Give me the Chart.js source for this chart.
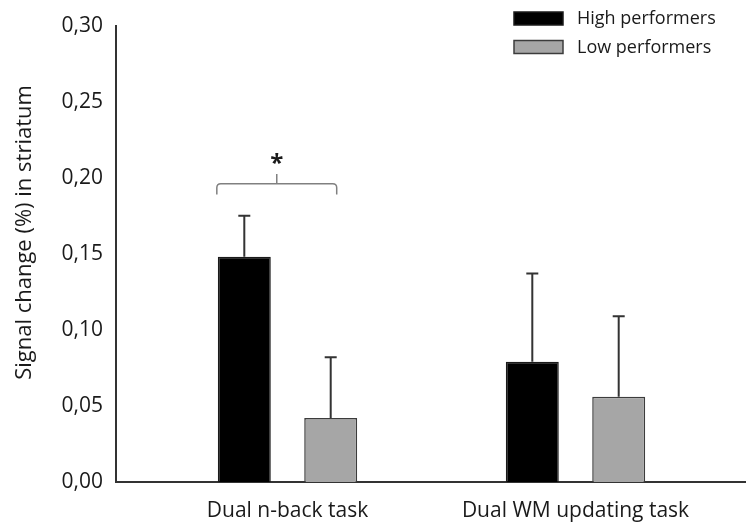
<!DOCTYPE html>
<html>
<head>
<meta charset="utf-8">
<script src="https://cdn.jsdelivr.net/npm/chart.js@4.4.1/dist/chart.umd.min.js"></script>
<style>
  html, body { margin: 0; padding: 0; background: #fff; }
  #wrap { width: 746px; height: 523px; }
</style>
</head>
<body>
<div id="wrap"><canvas id="barChart"></canvas></div>
<script>
// data
var tasks = ['Dual n-back task', 'Dual WM updating task'];
var groups = ['High performers', 'Low performers'];
var highMeans = [0.148, 0.079];
var highErrTop = [0.175, 0.137];
var lowMeans = [0.042, 0.056];
var lowErrTop = [0.082, 0.109];
var yTicks = [0, 0.05, 0.10, 0.15, 0.20, 0.25, 0.30];
var yTitle = 'Signal change (%) in striatum';
var sigMark = '*';

var FONT = '"Open Sans", "Noto Sans", sans-serif';
var TEXT = '#1a1a1a';

function toPoints(vals) {
  return vals.map(function (v, i) { return { x: i + 1, y: v }; });
}

// error bars on top of each bar
var errorBars = {
  id: 'errorBars',
  afterDatasetsDraw: function (chart) {
    var ctx = chart.ctx;
    var y = chart.scales.y;
    ctx.save();
    ctx.strokeStyle = '#333';
    ctx.lineWidth = 2;
    chart.data.datasets.forEach(function (ds, di) {
      var meta = chart.getDatasetMeta(di);
      meta.data.forEach(function (bar, i) {
        var top = y.getPixelForValue(ds.errTop[i]);
        ctx.beginPath();
        ctx.moveTo(bar.x, bar.y);
        ctx.lineTo(bar.x, top);
        ctx.moveTo(bar.x - 6, top);
        ctx.lineTo(bar.x + 6, top);
        ctx.stroke();
      });
    });
    ctx.restore();
  }
};

// significance bracket over the first task
var sigBracket = {
  id: 'sigBracket',
  afterDatasetsDraw: function (chart) {
    var ctx = chart.ctx;
    var y = chart.scales.y;
    var b0 = chart.getDatasetMeta(0).data[0];
    var b1 = chart.getDatasetMeta(1).data[0];
    var left = b0.x - b0.width / 2 - 1;
    var right = b1.x + 6;
    var mid = (left + right) / 2;
    var yLine = y.getPixelForValue(0.196);
    var yEnd = y.getPixelForValue(0.189);
    var yTip = y.getPixelForValue(0.2025);
    var r = 4;
    ctx.save();
    ctx.strokeStyle = '#808080';
    ctx.lineWidth = 1.5;
    ctx.beginPath();
    ctx.moveTo(left, yEnd);
    ctx.lineTo(left, yLine + r);
    ctx.quadraticCurveTo(left, yLine, left + r, yLine);
    ctx.lineTo(right - r, yLine);
    ctx.quadraticCurveTo(right, yLine, right, yLine + r);
    ctx.lineTo(right, yEnd);
    ctx.moveTo(mid, yLine);
    ctx.lineTo(mid, yTip);
    ctx.stroke();
    ctx.fillStyle = TEXT;
    ctx.font = 'bold 24px ' + FONT;
    ctx.textAlign = 'center';
    ctx.textBaseline = 'alphabetic';
    ctx.fillText(sigMark, mid, yTip - 3);
    ctx.restore();
  }
};

// y title and legend drawn by hand so they sit where the figure has them
var extras = {
  id: 'extras',
  afterDraw: function (chart) {
    var ctx = chart.ctx;
    var y = chart.scales.y;
    ctx.save();
    ctx.fillStyle = TEXT;
    ctx.font = '22px ' + FONT;
    ctx.textAlign = 'center';
    ctx.textBaseline = 'middle';
    ctx.translate(25, y.getPixelForValue(0.164));
    ctx.rotate(-Math.PI / 2);
    ctx.fillText(yTitle, 0, 0);
    ctx.restore();

    ctx.save();
    var bx = chart.width - 232;
    chart.data.datasets.forEach(function (ds, i) {
      var by = 12 + i * 28.5;
      ctx.fillStyle = ds.backgroundColor;
      ctx.fillRect(bx, by, 49, 13);
      ctx.strokeStyle = ds.borderColor;
      ctx.lineWidth = 1.5;
      ctx.strokeRect(bx, by, 49, 13);
      ctx.fillStyle = TEXT;
      ctx.font = '18px ' + FONT;
      ctx.textAlign = 'left';
      ctx.textBaseline = 'middle';
      ctx.fillText(ds.label, bx + 63, by + 7);
    });
    ctx.restore();
  }
};

document.addEventListener('DOMContentLoaded', function () {
  var ctx = document.getElementById('barChart').getContext('2d');
  var chart = new Chart(ctx, {
    type: 'bar',
    data: {
      datasets: [{
        label: groups[0],
        data: toPoints(highMeans),
        errTop: highErrTop,
        backgroundColor: '#000000',
        borderColor: '#1a1a1a',
        borderWidth: 1.5
      }, {
        label: groups[1],
        data: toPoints(lowMeans),
        errTop: lowErrTop,
        backgroundColor: '#a6a6a6',
        borderColor: '#3c3c3c',
        borderWidth: 1.5
      }]
    },
    options: {
      responsive: true,
      maintainAspectRatio: false,
      animation: false,
      layout: { padding: { top: 24, right: 0, bottom: 0, left: 0 } },
      categoryPercentage: 0.6,
      barPercentage: 0.613,
      plugins: {
        legend: { display: false },
        tooltip: { enabled: false }
      },
      scales: {
        x: {
          type: 'linear',
          offset: false,
          min: 0.4045,
          max: 2.592,
          grid: { display: false, drawTicks: false, offset: false },
          border: { display: true, color: '#333', width: 2 },
          afterBuildTicks: function (s) {
            s.ticks = tasks.map(function (t, i) { return { value: i + 1 }; });
          },
          afterFit: function (s) { s.height = 41; },
          ticks: {
            padding: 16,
            color: TEXT,
            font: { family: FONT, size: 21 },
            callback: function (v) { return tasks[v - 1]; }
          }
        },
        y: {
          min: yTicks[0],
          max: yTicks[yTicks.length - 1],
          grid: { display: false, drawTicks: false },
          border: { display: true, color: '#333', width: 2 },
          afterBuildTicks: function (s) {
            s.ticks = yTicks.map(function (v) { return { value: v }; });
          },
          afterFit: function (s) { s.width = 116; },
          ticks: {
            padding: 13,
            color: TEXT,
            font: { family: FONT, size: 21 },
            callback: function (v) { return v.toFixed(2).replace('.', ','); }
          }
        }
      }
    },
    plugins: [errorBars, sigBracket, extras]
  });
});
</script>
</body>
</html>
